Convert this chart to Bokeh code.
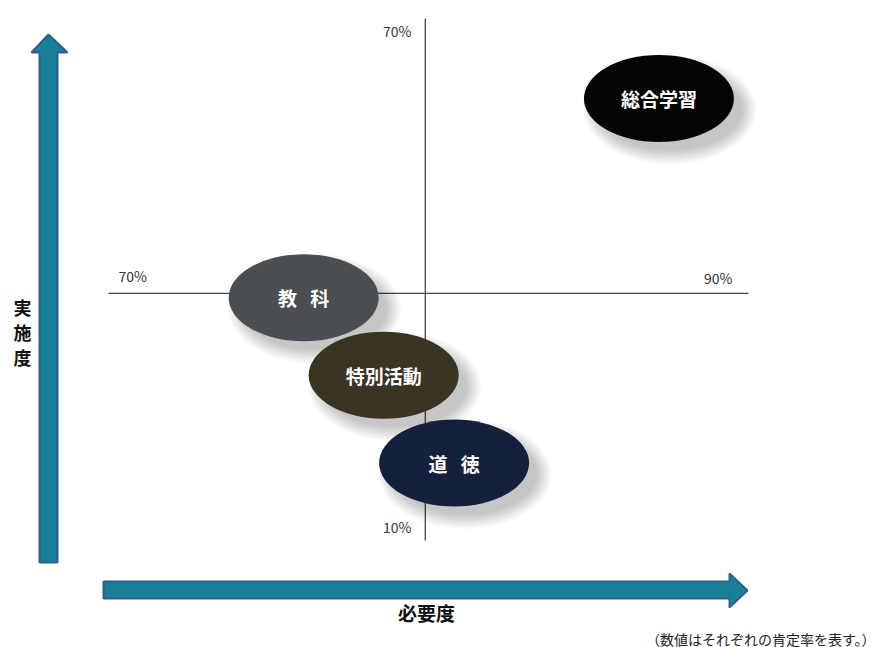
from bokeh.plotting import figure
from bokeh.models import Range1d
from bokeh.core.properties import value
from bokeh.embed import file_html
from bokeh.resources import INLINE

# ---- data ----
categories = ["総合学習", "教\u2002\u2009科", "特別活動", "道\u2002\u2009徳"]
necessity = [87.2, 76.1, 78.6, 80.8]        # 必要度 (%)
implementation = [60.8, 37.9, 29.0, 18.9]   # 実施度 (%)
colors = ["#050505", "#4b4e53", "#3a3523", "#15213c"]

x_min, x_max, x_mid = 70, 90, 79.9
y_min, y_max, y_mid = 10, 70, 38.4
x_tick_labels = ["70%", "90%"]
y_tick_labels = ["10%", "70%"]
note = "（数値はそれぞれの肯定率を表す。）"

W, H = 876, 647
# pixel mapping of the quadrant area
PX0, PX1 = 108, 748   # x_min, x_max
PY0, PY1 = 540, 18    # y_min, y_max (screen y downward)
sx = (PX1 - PX0) / (x_max - x_min)
sy = (PY0 - PY1) / (y_max - y_min)

def X(px):
    return x_min + (px - PX0) / sx

def Y(py):
    return y_min + (PY0 - py) / sy

FONT = value("Noto Sans CJK JP")

p = figure(width=W, height=H, output_backend="svg", toolbar_location=None,
           x_range=Range1d(X(0), X(W)), y_range=Range1d(Y(H), Y(0)),
           min_border=0, outline_line_color=None)
p.axis.visible = False
p.grid.visible = False
p.background_fill_color = "white"
p.border_fill_color = "white"

# quadrant lines
p.line([x_mid, x_mid], [y_min, y_max], line_color="#444444", line_width=1.3)
p.line([x_min, x_max], [y_mid, y_mid], line_color="#444444", line_width=1.3)

# tick labels
p.text([X(411)], [Y(30)], text=[y_tick_labels[1]], text_align="right", text_baseline="middle",
       text_font=FONT, text_font_size="14px", text_color="#333333")
p.text([X(411)], [Y(526)], text=[y_tick_labels[0]], text_align="right", text_baseline="middle",
       text_font=FONT, text_font_size="14px", text_color="#333333")
p.text([X(118)], [Y(275)], text=[x_tick_labels[0]], text_align="left", text_baseline="middle",
       text_font=FONT, text_font_size="14px", text_color="#333333")
p.text([X(732)], [Y(277)], text=[x_tick_labels[1]], text_align="right", text_baseline="middle",
       text_font=FONT, text_font_size="14px", text_color="#333333")

# ellipse shadows (soft, offset down-right)
EW, EH = 150, 87
for k in range(10):
    grow = k * 3.2
    p.ellipse(x=[v + 11 / sx for v in necessity], y=[v - 11 / sy for v in implementation],
              width=EW + grow - 6, height=EH + grow - 6, width_units="screen", height_units="screen",
              fill_color="#000000", fill_alpha=0.024, line_color=None)

# ellipses
p.ellipse(x=necessity, y=implementation, width=EW, height=EH,
          width_units="screen", height_units="screen",
          fill_color=colors, line_color=None)
p.text(necessity, implementation, text=categories, text_align="center", text_baseline="middle",
       text_font=FONT, text_font_size="19px", text_color="white", text_font_style="bold")

# arrows
TEAL = "#1a7f98"
EDGE = "#2e5e8e"
vx = [39, 57, 57, 67, 48, 31, 39]
vy = [562, 562, 52, 52, 34, 52, 52]
p.patch([X(v) for v in vx], [Y(v) for v in vy], fill_color=TEAL, line_color=EDGE, line_width=2)
hx = [103, 729, 729, 747, 729, 729, 103]
hy = [581, 581, 573, 590, 607, 598, 598]
p.patch([X(v) for v in hx], [Y(v) for v in hy], fill_color=TEAL, line_color=EDGE, line_width=2)

# axis titles
for i, ch in enumerate("実施度"):
    p.text([X(22)], [Y(306 + i * 25)], text=[ch], text_align="center", text_baseline="middle",
           text_font=FONT, text_font_size="18px", text_font_style="bold", text_color="#111111")
p.text([X(426)], [Y(612)], text=["必要度"], text_align="center", text_baseline="middle",
       text_font=FONT, text_font_size="19px", text_font_style="bold", text_color="#111111")
p.text([X(875)], [Y(638)], text=[note], text_align="right", text_baseline="middle",
       text_font=FONT, text_font_size="14px", text_color="#222222")

open("out.html", "w").write(file_html(p, INLINE))
